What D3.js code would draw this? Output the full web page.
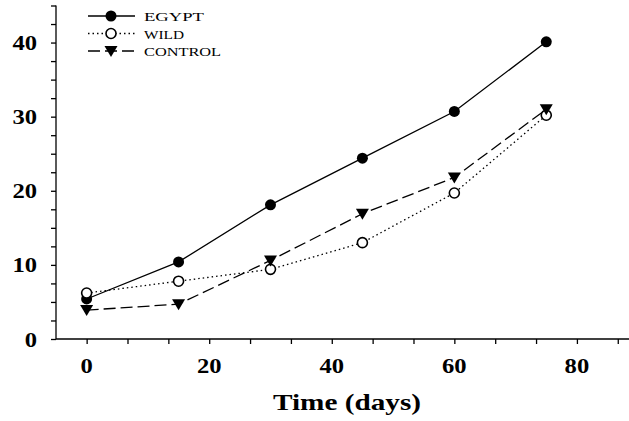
<!DOCTYPE html>
<html><head><meta charset="utf-8">
<script src="https://cdn.jsdelivr.net/npm/d3@7"></script>
<style>body{margin:0;background:#fff}svg{display:block}</style>
</head><body>
<svg id="c" width="629" height="421"></svg>
<script>
const days = [0, 15, 30, 45, 60, 75];
const egypt = [5.4, 10.4, 18.1, 24.4, 30.7, 40.1];
const wild = [6.2, 7.8, 9.4, 13.0, 19.7, 30.2];
const control = [3.9, 4.7, 10.6, 16.9, 21.8, 31.0];
const xTicks = [0, 20, 40, 60, 80];
const yTicks = [0, 10, 20, 30, 40];
const seriesNames = ["EGYPT", "WILD", "CONTROL"];
const xLabel = "Time (days)";

const svg = d3.select("#c");
const font = "'Liberation Serif','Times New Roman',serif";
const x = d3.scaleLinear().domain([-5, 88.5]).range([56, 629]);
const y = d3.scaleLinear().domain([0, 45]).range([339, 5.5]);

// axes
const xMinor = d3.range(0, 90, 20/3);
const xAxis = svg.append("g").attr("transform", `translate(0,${y(0)})`)
  .call(d3.axisBottom(x).tickValues(xMinor).tickSize(5).tickFormat(""));
xAxis.select(".domain").attr("d", `M${x(-5)},0H629`);
xAxis.selectAll("line,path").attr("stroke", "#000").attr("stroke-width", 1.3);
const yMinor = d3.range(0, 45.01, 2.5);
const yAxis = svg.append("g").attr("transform", `translate(${x(-5)},0)`)
  .call(d3.axisLeft(y).tickValues(yMinor).tickSize(5).tickSizeOuter(0).tickFormat(""));
yAxis.select(".domain").attr("d", `M0,${y(45)}V${y(0)}`);
yAxis.selectAll("line,path").attr("stroke", "#000").attr("stroke-width", 1.3);

const digitW = 12.3;
svg.append("g").selectAll("text").data(xTicks).join("text")
  .attr("x", d => x(d)).attr("y", 373).attr("text-anchor", "middle")
  .attr("font-family", font).attr("font-weight", "bold").attr("font-size", 22)
  .attr("textLength", d => String(d).length * digitW).attr("lengthAdjust", "spacingAndGlyphs")
  .text(d => d);
svg.append("g").selectAll("text").data(yTicks).join("text")
  .attr("x", 37).attr("y", d => y(d) + 7.5).attr("text-anchor", "end")
  .attr("font-family", font).attr("font-weight", "bold").attr("font-size", 22)
  .attr("textLength", d => String(d).length * digitW).attr("lengthAdjust", "spacingAndGlyphs")
  .text(d => d);
svg.append("text").attr("x", 347).attr("y", 410).attr("text-anchor", "middle")
  .attr("font-family", font).attr("font-weight", "bold").attr("font-size", 23)
  .attr("textLength", 148).attr("lengthAdjust", "spacingAndGlyphs")
  .text(xLabel);

const styles = [
  {vals: egypt, dash: null, marker: "fill"},
  {vals: wild, dash: "1.5,3", marker: "open"},
  {vals: control, dash: "12,5", marker: "tri"}
];
const line = d3.line().x(d => x(d[0])).y(d => y(d[1]));
function drawMarker(g, type, cx, cy) {
  if (type === "fill") g.append("circle").attr("cx", cx).attr("cy", cy).attr("r", 5.5).attr("fill", "#000");
  else if (type === "open") g.append("circle").attr("cx", cx).attr("cy", cy).attr("r", 5).attr("fill", "#fff").attr("stroke", "#000").attr("stroke-width", 1.6);
  else g.append("path").attr("d", `M${cx-6.5},${cy-5}L${cx+6.5},${cy-5}L${cx},${cy+6}Z`).attr("fill", "#000");
}
styles.forEach(s => {
  const pts = days.map((d, i) => [d, s.vals[i]]);
  const p = svg.append("path").attr("d", line(pts)).attr("fill", "none").attr("stroke", "#000").attr("stroke-width", 1.3);
  if (s.dash) p.attr("stroke-dasharray", s.dash);
});
styles.forEach(s => {
  const g = svg.append("g");
  days.forEach((d, i) => drawMarker(g, s.marker, x(d), y(s.vals[i])));
});

// legend
const ly = [16, 33.5, 51];
const lw = [60, 40, 77];
styles.forEach((s, i) => {
  const g = svg.append("g");
  const l = g.append("line").attr("x1", 88).attr("x2", 135).attr("y1", ly[i]).attr("y2", ly[i]).attr("stroke", "#000").attr("stroke-width", 1.3);
  if (s.dash) l.attr("stroke-dasharray", s.dash);
  drawMarker(g, s.marker, 111, ly[i]);
  g.append("text").attr("x", 144).attr("y", ly[i] + 5).attr("font-family", font).attr("font-size", 13.5)
    .attr("textLength", lw[i]).attr("lengthAdjust", "spacingAndGlyphs").text(seriesNames[i]);
});
</script>
</body></html>
